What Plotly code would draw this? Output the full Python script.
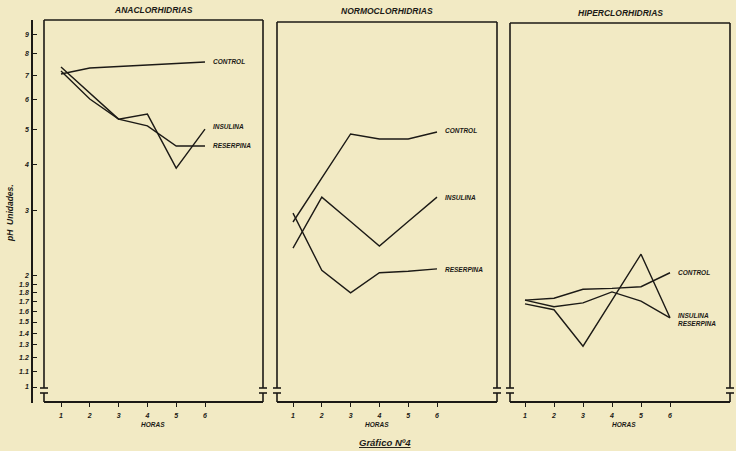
import math
import plotly.graph_objects as go

W, H = 736, 451

# ---------------- data ----------------
hours = [1, 2, 3, 4, 5, 6]
hour_labels = ["1", "2", "3", "4", "5", "6"]
panel_titles = ["ANACLORHIDRIAS", "NORMOCLORHIDRIAS", "HIPERCLORHIDRIAS"]
series_names = ["CONTROL", "INSULINA", "RESERPINA"]

ana_control = [7.05, 7.32, 7.39, 7.46, 7.53, 7.60]
ana_insulina = [7.37, 6.26, 5.32, 5.49, 3.92, 5.00]
ana_reserpina = [7.18, 6.03, 5.32, 5.10, 4.50, 4.50]

norm_control = [2.80, 3.69, 4.85, 4.70, 4.70, 4.91]
norm_insulina = [2.38, 3.27, 2.81, 2.41, 2.81, 3.27]
norm_reserpina = [2.96, 2.07, 1.80, 2.04, 2.06, 2.09]

hiper_control = [1.72, 1.74, 1.84, 1.85, 1.87, 2.04]
hiper_insulina = [1.72, 1.65, 1.69, 1.81, 1.71, 1.54]
hiper_reserpina = [1.68, 1.62, 1.29, 1.72, 2.29, 1.54]

ph_ticks = [1, 1.1, 1.2, 1.3, 1.4, 1.5, 1.6, 1.7, 1.8, 1.9, 2, 3, 4, 5, 6, 7, 8, 9]
ph_tick_labels = ["1", "1.1", "1.2", "1.3", "1.4", "1.5", "1.6", "1.7", "1.8", "1.9",
                  "2", "3", "4", "5", "6", "7", "8", "9"]

panels = [
    [ana_control, ana_insulina, ana_reserpina],
    [norm_control, norm_insulina, norm_reserpina],
    [hiper_control, hiper_insulina, hiper_reserpina],
]

# ---------------- layout geometry (pixels) ----------------
INK = "#1c1a16"
BG = "#f2eac4"
FONT = "Liberation Sans"

frames = [  # left, right, top
    (44, 263, 20),
    (277, 497, 22),
    (510, 730, 23),
]
data_x = [(61, 205), (293, 437), (525, 670)]  # pixel of hour 1 and hour 6
horas_x = [4.2, 3.9, 4.4]
title_y = [10, 11, 13]
FRAME_BOTTOM = 388
AXIS_Y = 402
YAX_X = 32
Y_TOP, Y_BOT = 20, 403
PH1_PX, DECADE_PX = 387, 369

label_shift = [[0, 3, 0], [1, 0, -1], [0, 2, -6]]


def px(x):
    return x / W


def py(y):
    return 1 - y / H


fig = go.Figure()

axnames = ["x", "x2", "x3"]
for i, series in enumerate(panels):
    for name, vals in zip(series_names, series):
        fig.add_trace(go.Scatter(
            x=hours, y=vals, mode="lines", name=name,
            line=dict(color=INK, width=1.4),
            xaxis=axnames[i], yaxis="y", showlegend=False,
            hoverinfo="skip"))

y_range = [(PH1_PX - Y_BOT) / DECADE_PX, (PH1_PX - Y_TOP) / DECADE_PX]

tick_font = dict(family=FONT, size=7, color=INK, weight="bold", style="italic")

layout = dict(
    width=W, height=H,
    margin=dict(l=0, r=0, t=0, b=0),
    paper_bgcolor=BG, plot_bgcolor=BG,
    showlegend=False,
    yaxis=dict(
        type="log", range=y_range,
        domain=[py(Y_BOT), py(Y_TOP)],
        anchor="free", position=px(YAX_X), side="left",
        showline=True, linecolor=INK, linewidth=1.6,
        ticks="inside", ticklen=4, tickwidth=1.2, tickcolor=INK,
        tickvals=ph_ticks, ticktext=ph_tick_labels, ticklabelstandoff=1,
        tickfont=tick_font,
        showgrid=False, zeroline=False, automargin=False,
    ),
)

shapes = []
annotations = []
for i, ((l, r, top), (d1, d6)) in enumerate(zip(frames, data_x)):
    unit = (d6 - d1) / 5
    rng = [1 - (d1 - l) / unit, 1 + (r - d1) / unit]
    key = "xaxis" if i == 0 else f"xaxis{i + 1}"
    layout[key] = dict(
        domain=[px(l), px(r)], range=rng,
        anchor="free", position=py(AXIS_Y),
        showline=True, linecolor=INK, linewidth=1.6,
        ticks="outside", ticklen=4, tickwidth=1.2, tickcolor=INK,
        tickvals=hours, ticktext=hour_labels, ticklabelstandoff=3,
        tickfont=tick_font,
        showgrid=False, zeroline=False, automargin=False,
    )
    line = dict(color=INK, width=1.6)
    shapes.append(dict(type="line", xref="paper", yref="paper",
                       x0=px(l), x1=px(r), y0=py(top), y1=py(top), line=line))
    for xe in (l, r):
        shapes.append(dict(type="line", xref="paper", yref="paper",
                           x0=px(xe), x1=px(xe), y0=py(top), y1=py(FRAME_BOTTOM), line=line))
        shapes.append(dict(type="line", xref="paper", yref="paper",
                           x0=px(xe - 4), x1=px(xe + 4), y0=py(FRAME_BOTTOM), y1=py(FRAME_BOTTOM), line=line))
        shapes.append(dict(type="line", xref="paper", yref="paper",
                           x0=px(xe - 4), x1=px(xe + 4), y0=py(FRAME_BOTTOM + 5), y1=py(FRAME_BOTTOM + 5), line=line))
        shapes.append(dict(type="line", xref="paper", yref="paper",
                           x0=px(xe), x1=px(xe), y0=py(FRAME_BOTTOM + 5), y1=py(AXIS_Y), line=line))
    annotations.append(dict(text=panel_titles[i], xref="paper", yref="paper",
                            x=px((l + r) / 2), y=py(title_y[i]), showarrow=False,
                            xanchor="center", yanchor="middle",
                            font=dict(family=FONT, size=8.5, color=INK, weight="bold", style="italic")))
    annotations.append(dict(text="HORAS", xref=axnames[i], yref="paper",
                            x=horas_x[i], y=py(424), showarrow=False,
                            xanchor="center", yanchor="middle",
                            font=dict(family=FONT, size=6.5, color=INK, weight="bold", style="italic")))
    for j, (name, vals) in enumerate(zip(series_names, panels[i])):
        annotations.append(dict(text=name, xref=axnames[i], yref="y",
                                x=6.22, y=math.log10(vals[-1]),
                                xanchor="left", yanchor="middle", showarrow=False,
                                yshift=label_shift[i][j],
                                font=dict(family=FONT, size=6.5, color=INK, weight="bold", style="italic")))

annotations.append(dict(text="pH  Unidades.", xref="paper", yref="paper",
                        x=px(10), y=py(213), textangle=-90, showarrow=False,
                        xanchor="center", yanchor="middle",
                        font=dict(family=FONT, size=8.5, color=INK, weight="bold", style="italic")))
annotations.append(dict(text="<u>Gráfico Nº4</u>", xref="paper", yref="paper",
                        x=px(385), y=py(442), showarrow=False,
                        xanchor="center", yanchor="middle",
                        font=dict(family=FONT, size=9.5, color=INK, weight="bold", style="italic")))

layout["shapes"] = shapes
layout["annotations"] = annotations
fig.update_layout(**layout)
fig.write_html(
    "out.html",
    config={"displayModeBar": False},
    post_script="document.body.style.margin='0';document.body.style.background='" + BG + "';",
)
